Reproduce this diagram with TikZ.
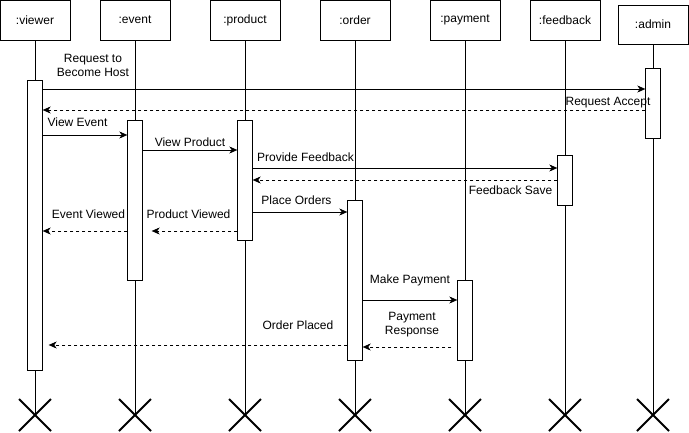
\documentclass[tikz,border=0pt]{standalone}
\usepackage{fontspec}
\setmainfont{Liberation Sans}
\usetikzlibrary{arrows.meta,shapes.misc}

\begin{document}
\begin{tikzpicture}[x=1pt,y=-1pt,
  lifebox/.style={draw,fill=white,minimum width=70,minimum height=40,inner sep=0,
    font=\fontsize{12}{14}\selectfont},
  actbar/.style={draw,fill=white,minimum width=15,inner sep=0},
  endmark/.style={cross out,draw,line width=2pt,minimum size=30,inner sep=0},
  msg/.style={-{Stealth[length=8pt,width=7pt,inset=2.5pt]}},
  reply/.style={msg,dash pattern=on 3pt off 3pt},
  lbl/.style={font=\fontsize{12}{14}\selectfont,inner sep=0,align=center}]
\useasboundingbox (0,0) rectangle (689,432);
% objects
\foreach \name/\x in {viewer/35,event/135,product/245,order/355,payment/465,feedback/565}
  \node[lifebox] (\name) at (\x,20) {:\name};
\node[lifebox,minimum height=39] (admin) at (653,24.5) {:admin};
% lifelines and ends
\foreach \name in {viewer,event,product,order,payment,feedback,admin} {
  \node[endmark] (x-\name) at (\name |- 0,415) {};
  \draw (\name.south) -- (x-\name.center);
}
% activations
\node[actbar,minimum height=290] (b-viewer) at (35,225) {};
\node[actbar,minimum height=160] (b-event) at (135,200) {};
\node[actbar,minimum height=120] (b-product) at (245,180) {};
\node[actbar,minimum height=160] (b-order) at (355,280) {};
\node[actbar,minimum height=80] (b-payment) at (465,320) {};
\node[actbar,minimum height=50] (b-feedback) at (565,180) {};
\node[actbar,minimum height=70] (b-admin) at (653,103) {};
% messages
\draw[msg] (b-viewer.east |- 0,89) -- (b-admin.west |- 0,89);
\node[lbl] (l-host) at (93,65) {Request to\\Become Host};
\draw[reply] (b-admin.west |- 0,110) -- (b-viewer.east |- 0,110);
\node[lbl] (l-accept) at (608,103) {Request Accept};
\draw[msg] (b-viewer.east |- 0,135) -- (b-event.west |- 0,135);
\node[lbl] (l-vevent) at (77.5,122) {View Event};
\draw[msg] (b-event.east |- 0,150) -- (b-product.west |- 0,150);
\node[lbl] (l-vproduct) at (190,142) {View Product};
\draw[msg] (b-product.east |- 0,168) -- (b-feedback.west |- 0,168);
\node[lbl] (l-feedback) at (305.5,157) {Provide Feedback};
\draw[reply] (b-feedback.west |- 0,180) -- (b-product.east |- 0,180);
\node[lbl] (l-save) at (510.5,190) {Feedback Save};
\draw[msg] (b-product.east |- 0,212) -- (b-order.west |- 0,212);
\node[lbl] (l-orders) at (296.5,200) {Place Orders};
\draw[reply] (b-product.west |- 0,231) -- ([xshift=9]b-event.east |- 0,231);
\node[lbl] (l-pviewed) at (188.5,214) {Product Viewed};
\draw[reply] (b-event.west |- 0,231) -- (b-viewer.east |- 0,231);
\node[lbl] (l-eviewed) at (88.5,214) {Event Viewed};
\draw[msg] (b-order.east |- 0,300) -- (b-payment.west |- 0,300);
\node[lbl] (l-payment) at (410,280) {Make Payment};
\draw[reply] ([xshift=-6]b-payment.west |- 0,347) -- (b-order.east |- 0,347);
\node[lbl] (l-response) at (412,324.5) {Payment\\Response};
\draw[reply] (b-order.west |- 0,345) -- ([xshift=6]b-viewer.east |- 0,345);
\node[lbl] (l-placed) at (298,325) {Order Placed};
\end{tikzpicture}
\end{document}
